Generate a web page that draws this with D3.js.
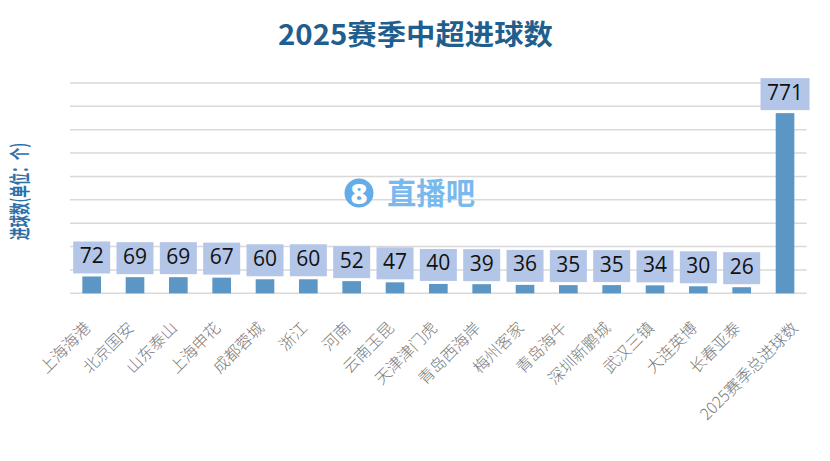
<!DOCTYPE html>
<html>
<head>
<meta charset="utf-8">
<script src="https://cdn.jsdelivr.net/npm/d3@7/dist/d3.min.js"></script>
<style>
  html, body { margin: 0; padding: 0; background: #fff; }
  svg { display: block; }
</style>
</head>
<body>
<svg id="chart" width="830" height="461"></svg>
<script>
const teams = ["上海海港", "北京国安", "山东泰山", "上海申花", "成都蓉城", "浙江", "河南", "云南玉昆",
    "天津津门虎", "青岛西海岸", "梅州客家", "青岛海牛", "深圳新鹏城", "武汉三镇", "大连英博", "长春亚泰",
    "2025赛季总进球数"]
const goals = [72, 69, 69, 67, 60, 60, 52, 47, 40, 39, 36, 35, 35, 34, 30, 26, 771]
const yTicks = [0, 100, 200, 300, 400, 500, 600, 700, 800, 900]

const titleText = "2025赛季中超进球数"
const yTitleText = "进球数(单位：个)"

const svg = d3.select("#chart")
const cjk = "'Noto Sans CJK SC', 'Noto Sans', sans-serif"

const x = d3.scaleBand()
    .domain(teams)
    .range([70, 806.7])
    .paddingInner(0.57)
    .paddingOuter(0.285)

const y = d3.scaleLinear()
    .domain([0, 900])
    .range([293.3, 83])

const cx = d => x(d) + x.bandwidth() / 2

// gridlines
svg.append("g")
    .selectAll("line")
    .data(yTicks)
    .join("line")
    .attr("x1", 70)
    .attr("x2", 806.7)
    .attr("y1", d => y(d))
    .attr("y2", d => y(d))
    .attr("stroke", "#d9d9d9")
    .attr("stroke-width", 1.5)

// watermark
const wm = svg.append("g")
wm.append("circle")
    .attr("cx", 359).attr("cy", 193).attr("r", 14.5)
    .attr("fill", "#62ade9")
wm.append("text")
    .attr("x", 359).attr("y", 203.5)
    .attr("text-anchor", "middle")
    .attr("font-family", "'Open Sans', sans-serif")
    .attr("font-weight", 800)
    .attr("font-size", 29)
    .attr("fill", "#fff")
    .text("8")
wm.append("text")
    .attr("x", 387).attr("y", 204)
    .attr("font-family", cjk)
    .attr("font-weight", 700)
    .attr("font-size", 30)
    .attr("textLength", 88)
    .attr("lengthAdjust", "spacingAndGlyphs")
    .attr("fill", "#7ab9ee")
    .text("直播吧")

// bars
svg.append("g")
    .selectAll("rect")
    .data(goals)
    .join("rect")
    .attr("x", (d, i) => x(teams[i]))
    .attr("width", x.bandwidth())
    .attr("y", d => y(d))
    .attr("height", d => y(0) - y(d))
    .attr("fill", "#5b96c4")

// data labels
const boxW = d => String(d).length * 12 + 13
const lab = svg.append("g")
    .selectAll("g")
    .data(goals)
    .join("g")
    .attr("transform", (d, i) => `translate(${cx(teams[i])},${y(d) - 3})`)

lab.append("rect")
    .attr("x", d => -boxW(d) / 2)
    .attr("y", -32)
    .attr("width", boxW)
    .attr("height", 32)
    .attr("fill", "#b4c6e7")

lab.append("text")
    .attr("y", -10.5)
    .attr("text-anchor", "middle")
    .attr("font-family", "'Open Sans', 'Noto Sans', sans-serif")
    .attr("font-size", 21)
    .attr("fill", "#111")
    .text(d => d)

// category labels
svg.append("g")
    .selectAll("text")
    .data(teams)
    .join("text")
    .attr("transform", (d, i) => `translate(${cx(d) + (i === teams.length - 1 ? 14 : 0)},329) rotate(-45)`)
    .attr("text-anchor", "end")
    .attr("font-family", cjk)
    .attr("font-size", 16)
    .attr("font-weight", 300)
    .attr("fill", "#7a7a7a")
    .text(d => d)

// title
svg.append("text")
    .attr("x", 415.5).attr("y", 45)
    .attr("text-anchor", "middle")
    .attr("font-family", cjk)
    .attr("font-weight", 700)
    .attr("font-size", 28)
    .attr("textLength", 275)
    .attr("lengthAdjust", "spacingAndGlyphs")
    .attr("fill", "#1f5e8d")
    .text(titleText)

// y axis title
svg.append("text")
    .attr("transform", "translate(27,191.5) rotate(-90)")
    .attr("text-anchor", "middle")
    .attr("font-family", cjk)
    .attr("font-weight", 700)
    .attr("font-size", 21)
    .attr("textLength", 97)
    .attr("lengthAdjust", "spacingAndGlyphs")
    .attr("fill", "#2c70aa")
    .text(yTitleText)
</script>
</body>
</html>
